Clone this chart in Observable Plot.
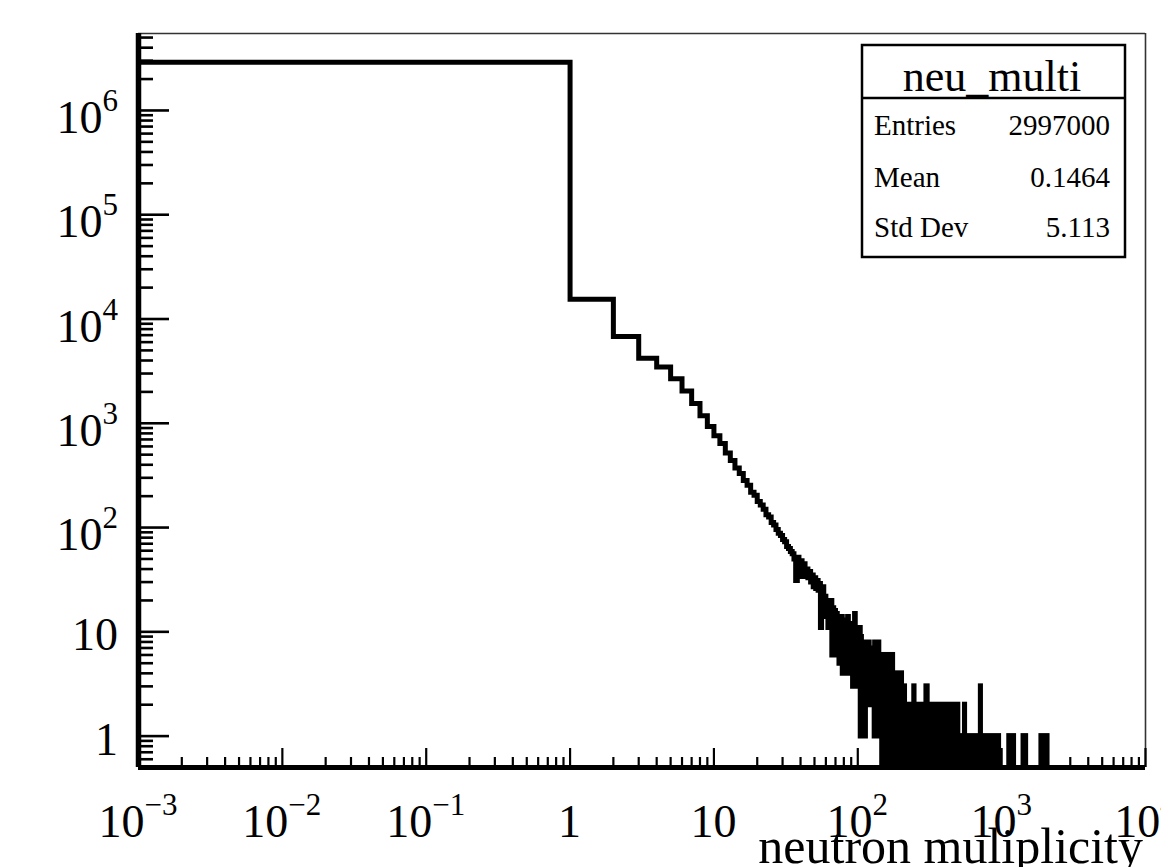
<!DOCTYPE html>
<html><head><meta charset="utf-8">
<script src="https://cdn.jsdelivr.net/npm/d3@7"></script>
<script src="https://cdn.jsdelivr.net/npm/@observablehq/plot@0.6"></script>
<style>html,body{margin:0;padding:0;background:#fff;} svg{display:block;}</style>
</head><body><div id="chart"></div>
<script>
// ---- data ----
const histName = "neu_multi";
const xTitle = "neutron muliplicity";
const statLabels = ["Entries", "Mean", "Std Dev"];
const statValues = ["2997000", "0.1464", "5.113"];

// counts of unit-width bins n = 0 .. 147
const binCounts = [
  2900000, 15500, 6800, 4200, 3470, 2680, 2040, 1550, 1180, 930,
  760, 640, 520, 440, 372, 330, 283, 255, 218, 204,
  178, 165, 150, 133, 126, 112, 106, 96, 88, 84,
  77, 73, 66, 63, 59, 56, 50, 31, 52, 36,
  48, 34, 45, 37, 40, 33, 38, 30, 35, 27,
  33, 26, 31, 25, 29, 11, 24, 27, 20, 22,
  14, 20, 11, 19, 12, 20, 6, 17, 9, 16,
  6, 15, 10, 14, 5, 13, 8, 14, 4, 12,
  7, 13, 4, 11, 6, 14, 4, 10, 5, 12,
  4, 9, 3, 11, 6, 15, 4, 9, 5, 10,
  3, 8, 4, 11, 1, 9, 2, 7, 1, 8,
  3, 6, 1, 7, 2, 5, 2, 6, 2, 8,
  2, 5, 2, 6, 3, 4, 2, 7, 2, 5,
  1, 8, 3, 6, 2, 5, 1, 4, 2, 8,
  1, 5, 3, 6, 2, 4, 1, 5
];
// sparse tail (bins mixing 0 with small counts): [from n, to n, highest count]
const tailRuns = [
  [148, 176, 6], [176, 203, 4], [203, 213, 3], [213, 500, 2],
  [247, 248, 3], [300, 306, 3], [500, 960, 1], [556, 557, 2],
  [717, 718, 3], [1130, 1220, 1], [1420, 1480, 1], [1890, 2085, 1]
];

const xTickValues = [1e-3, 1e-2, 1e-1, 1, 10, 100, 1000, 10000];
const xTickLabels = ["10^-3", "10^-2", "10^-1", "1", "10", "10^2", "10^3", "10^4"];
const yTickValues = [1, 10, 100, 1e3, 1e4, 1e5, 1e6];
const yTickLabels = ["1", "10", "10^2", "10^3", "10^4", "10^5", "10^6"];

// ---- chart ----
const W = 1161, H = 867;
const xDomain = [1e-3, 1e4], yDomain = [0.5, 5.47e6];

const steps = [];
binCounts.forEach((c, i) => {
  steps.push({x: Math.max(i, xDomain[0]), y: c}, {x: i + 1, y: c});
});
steps.push({x: binCounts.length, y: yDomain[0]});

const xMinor = [], yMinor = [];
for (let k = -3; k < 4; k++) for (let m = 2; m < 10; m++) xMinor.push(m * 10 ** k);
for (let k = -1; k < 7; k++) for (let m = 2; m < 10; m++) {
  const v = m * 10 ** k;
  if (v > yDomain[0] && v < yDomain[1]) yMinor.push(v);
}

const font = "'Liberation Serif', 'Times New Roman', serif";
const chart = Plot.plot({
  width: W, height: H,
  marginLeft: 138, marginRight: 16, marginTop: 33, marginBottom: 100,
  x: {type: "log", domain: xDomain, axis: null, label: null},
  y: {type: "log", domain: yDomain, axis: null, label: null},
  style: {fontFamily: font, background: "white", color: "black", overflow: "visible"},
  marks: [
    Plot.ruleY([yDomain[1]], {stroke: "#333", strokeWidth: 1.6}),
    Plot.ruleX([xDomain[1]], {stroke: "#333", strokeWidth: 1.6}),
    Plot.axisX(xMinor, {anchor: "bottom", tickSize: -10, strokeWidth: 2.2, tickFormat: () => "", label: null}),
    Plot.axisX(xTickValues, {anchor: "bottom", tickSize: -19, strokeWidth: 2.2, tickFormat: () => "", label: null}),
    Plot.axisY(yMinor, {anchor: "left", tickSize: -15, strokeWidth: 2.6, tickFormat: () => "", label: null}),
    Plot.axisY(yTickValues, {anchor: "left", tickSize: -31, strokeWidth: 2.6, tickFormat: () => "", label: null}),
    Plot.rect(tailRuns, {x1: d => d[0], x2: d => d[1], y1: () => yDomain[0], y2: d => d[2],
      fill: "black", stroke: "black", strokeWidth: 5}),
    Plot.line(steps, {x: "x", y: "y", stroke: "black", strokeWidth: 5, strokeLinejoin: "miter", strokeMiterlimit: 4}),
    Plot.ruleX([xDomain[0]], {stroke: "black", strokeWidth: 5.5}),
    Plot.ruleY([yDomain[0]], {stroke: "black", strokeWidth: 5})
  ]
});
document.getElementById("chart").appendChild(chart);

// ---- labels (positions from Plot's scales) ----
const sx = chart.scale("x"), sy = chart.scale("y");
const svg = d3.select(chart);
const g = svg.append("g").attr("font-family", font).attr("fill", "black");

function addLabel(x, y, label, anchor, size, supSize, supDy) {
  const t = g.append("text").attr("x", x).attr("y", y).attr("text-anchor", anchor).attr("font-size", size);
  const [base, exp] = label.split("^");
  t.append("tspan").text(base);
  if (exp) t.append("tspan").attr("dy", -supDy).attr("font-size", supSize).text(exp.replace("-", "\u2212"));
}
xTickValues.forEach((v, i) => addLabel(sx.apply(v), 837, xTickLabels[i], "middle", 46, 31, 22));
yTickValues.forEach((v, i) => {
  const hasExp = yTickLabels[i].includes("^");
  addLabel(118, sy.apply(v) + (hasExp ? 23 : 19), yTickLabels[i], "end", 46, 31, 22);
});
g.append("text").attr("x", 1143).attr("y", 863).attr("text-anchor", "end").attr("font-size", 50).text(xTitle);

// ---- stats box ----
const bx = 862, by = 45, bw = 263, bh = 212;
const sb = svg.append("g").attr("font-family", font).attr("fill", "black");
sb.append("rect").attr("x", bx).attr("y", by).attr("width", bw).attr("height", bh)
  .attr("fill", "white").attr("stroke", "black").attr("stroke-width", 2.5);
sb.append("line").attr("x1", bx).attr("x2", bx + bw).attr("y1", 98).attr("y2", 98)
  .attr("stroke", "black").attr("stroke-width", 2.5);
sb.append("text").attr("x", 992).attr("y", 91).attr("text-anchor", "middle").attr("font-size", 44).text(histName);
const rowY = [135, 187, 237];
statLabels.forEach((s, i) => {
  sb.append("text").attr("x", 874).attr("y", rowY[i]).attr("text-anchor", "start").attr("font-size", 29).text(s);
  sb.append("text").attr("x", 1110).attr("y", rowY[i]).attr("text-anchor", "end").attr("font-size", 29).text(statValues[i]);
});
</script>
</body></html>
